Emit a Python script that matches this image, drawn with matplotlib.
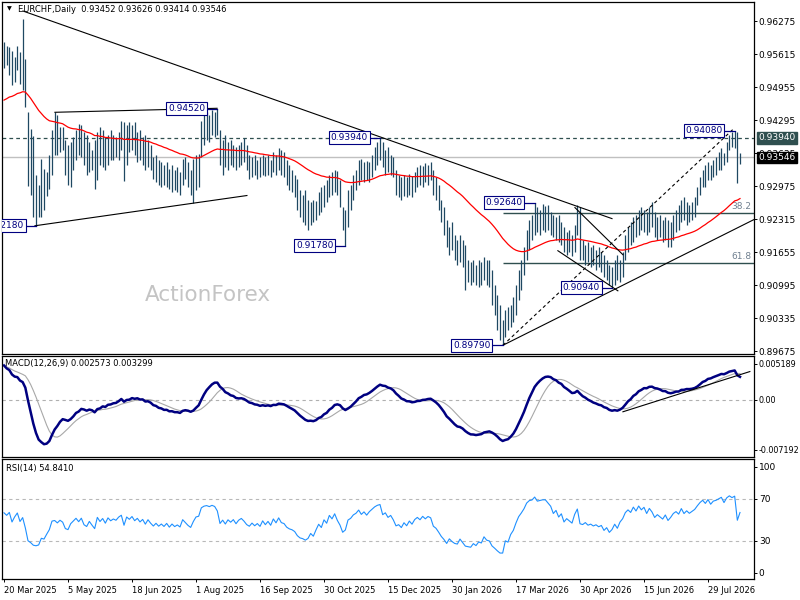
import matplotlib
matplotlib.use("Agg")
import matplotlib.pyplot as plt
import matplotlib.transforms as mtransforms

# daily bars, price x 10000
highs = [
    9586, 9578, 9575, 9568, 9555, 9578, 9565, 9631, 9551, 9445, 9411, 9397, 9320, 9300, 9351, 9331, 9325, 9360, 9410, 9445,
    9440, 9415, 9415, 9390, 9380, 9385, 9395, 9410, 9421, 9420, 9405, 9400, 9385, 9370, 9390, 9405, 9415, 9410, 9395, 9400,
    9410, 9400, 9395, 9405, 9427, 9425, 9420, 9425, 9420, 9425, 9405, 9410, 9395, 9400, 9390, 9380, 9355, 9360, 9350, 9345,
    9340, 9345, 9331, 9340, 9330, 9335, 9325, 9351, 9355, 9345, 9330, 9351, 9360, 9361, 9427, 9440, 9445, 9440, 9450, 9445,
    9452, 9410, 9390, 9400, 9385, 9390, 9380, 9375, 9380, 9385, 9394, 9380, 9360, 9355, 9360, 9350, 9355, 9360, 9355, 9360,
    9350, 9365, 9360, 9373, 9370, 9365, 9350, 9340, 9330, 9320, 9311, 9290, 9280, 9290, 9270, 9265, 9270, 9268, 9285, 9296,
    9300, 9310, 9320, 9325, 9330, 9327, 9310, 9255, 9250, 9290, 9300, 9320, 9330, 9350, 9351, 9345, 9348, 9345, 9360, 9375,
    9385, 9394, 9385, 9370, 9375, 9360, 9355, 9330, 9320, 9315, 9320, 9315, 9322, 9318, 9325, 9335, 9340, 9338, 9344, 9340,
    9345, 9330, 9315, 9300, 9270, 9255, 9230, 9215, 9225, 9200, 9190, 9200, 9190, 9180, 9150, 9145, 9150, 9140, 9150, 9145,
    9155, 9150, 9150, 9130, 9100, 9080, 9060, 9030, 9050, 9055, 9060, 9075, 9100, 9130, 9150, 9175, 9210, 9230, 9240, 9264,
    9255, 9250, 9262, 9258, 9260, 9245, 9240, 9235, 9240, 9225, 9215, 9205, 9210, 9200, 9220, 9260, 9255, 9190, 9180, 9185,
    9175, 9180, 9170, 9175, 9165, 9160, 9150, 9140, 9135, 9150, 9160, 9150, 9165, 9200, 9215, 9225, 9235, 9240, 9250, 9255,
    9250, 9245, 9255, 9266, 9245, 9235, 9240, 9230, 9235, 9230, 9225, 9240, 9250, 9260, 9270, 9276, 9265, 9260, 9265, 9275,
    9296, 9316, 9330, 9340, 9346, 9340, 9350, 9356, 9366, 9374, 9364, 9386, 9400, 9406, 9408, 9406, 9363,
]
lows = [
    9533, 9540, 9520, 9500, 9505, 9530, 9502, 9490, 9456, 9297, 9280, 9236, 9218, 9236, 9236, 9250, 9277, 9291, 9320, 9360,
    9360, 9365, 9370, 9320, 9300, 9296, 9330, 9350, 9360, 9355, 9340, 9320, 9325, 9330, 9291, 9310, 9340, 9335, 9330, 9340,
    9350, 9350, 9355, 9350, 9370, 9307, 9340, 9365, 9370, 9360, 9345, 9350, 9340, 9330, 9335, 9330, 9311, 9305, 9300, 9295,
    9300, 9295, 9291, 9285, 9290, 9285, 9280, 9300, 9311, 9295, 9280, 9263, 9290, 9296, 9355, 9380, 9390, 9385, 9400, 9395,
    9400, 9340, 9320, 9335, 9330, 9340, 9335, 9330, 9335, 9340, 9345, 9330, 9311, 9315, 9320, 9311, 9315, 9320, 9318, 9320,
    9315, 9325, 9320, 9330, 9320, 9315, 9300, 9290, 9285, 9275, 9250, 9235, 9225, 9220, 9210, 9220, 9225, 9230, 9240, 9245,
    9255, 9265, 9275, 9280, 9285, 9280, 9255, 9210, 9178, 9215, 9250, 9270, 9290, 9300, 9310, 9305, 9310, 9305, 9315, 9330,
    9340, 9350, 9335, 9320, 9325, 9320, 9315, 9280, 9275, 9270, 9278, 9275, 9280, 9276, 9285, 9295, 9300, 9296, 9305, 9300,
    9310, 9280, 9270, 9250, 9225, 9200, 9175, 9160, 9170, 9150, 9140, 9145, 9135, 9090, 9105, 9100, 9105, 9100, 9095, 9100,
    9110, 9100, 9095, 9060, 9040, 9010, 8990, 8979, 8995, 9010, 9015, 9025, 9040, 9070, 9090, 9120, 9150, 9170, 9190, 9200,
    9205, 9200, 9210, 9205, 9210, 9200, 9195, 9190, 9185, 9180, 9165, 9160, 9165, 9158, 9165, 9200, 9150, 9150, 9140, 9145,
    9135, 9140, 9130, 9135, 9125, 9115, 9110, 9100, 9094, 9100, 9110, 9105, 9115, 9150, 9165, 9180, 9185, 9195, 9200, 9210,
    9205, 9200, 9205, 9215, 9195, 9190, 9195, 9185, 9190, 9175, 9175, 9190, 9205, 9210, 9225, 9230, 9220, 9225, 9230, 9235,
    9260, 9280, 9296, 9296, 9310, 9310, 9316, 9320, 9330, 9330, 9340, 9346, 9370, 9376, 9374, 9303, 9341,
]
closes = [
    9560, 9548, 9565, 9515, 9545, 9570, 9520, 9545, 9470, 9320, 9290, 9245, 9235, 9240, 9280, 9270, 9300, 9330, 9395, 9400,
    9380, 9400, 9385, 9330, 9320, 9360, 9380, 9400, 9375, 9400, 9350, 9335, 9370, 9340, 9310, 9395, 9360, 9385, 9345, 9390,
    9365, 9380, 9370, 9395, 9410, 9330, 9400, 9380, 9405, 9370, 9390, 9360, 9380, 9340, 9375, 9345, 9320, 9340, 9315, 9330,
    9310, 9330, 9300, 9320, 9300, 9310, 9295, 9340, 9320, 9300, 9285, 9320, 9350, 9355, 9420, 9435, 9440, 9435, 9445, 9440,
    9420, 9350, 9370, 9345, 9370, 9355, 9370, 9345, 9365, 9375, 9360, 9340, 9330, 9345, 9330, 9340, 9325, 9350, 9330, 9345,
    9325, 9355, 9335, 9360, 9335, 9330, 9310, 9300, 9295, 9285, 9260, 9245, 9240, 9230, 9235, 9250, 9235, 9255, 9275, 9260,
    9290, 9275, 9310, 9295, 9320, 9290, 9265, 9220, 9230, 9280, 9290, 9310, 9320, 9340, 9320, 9335, 9320, 9340, 9355, 9370,
    9380, 9385, 9345, 9355, 9335, 9345, 9325, 9295, 9300, 9285, 9305, 9290, 9310, 9295, 9315, 9325, 9315, 9330, 9320, 9330,
    9325, 9290, 9280, 9260, 9235, 9215, 9185, 9200, 9180, 9165, 9160, 9175, 9150, 9120, 9115, 9110, 9120, 9105, 9115, 9108,
    9125, 9105, 9100, 9065, 9045, 9020, 8995, 8995, 9030, 9020, 9045, 9060, 9090, 9120, 9140, 9165, 9205, 9225, 9230, 9255,
    9240, 9245, 9250, 9250, 9240, 9230, 9205, 9220, 9195, 9210, 9175, 9190, 9180, 9170, 9210, 9240, 9165, 9160, 9170, 9155,
    9160, 9150, 9155, 9145, 9150, 9125, 9135, 9110, 9120, 9140, 9120, 9145, 9160, 9190, 9205, 9195, 9225, 9210, 9240, 9225,
    9240, 9215, 9245, 9230, 9205, 9220, 9210, 9200, 9220, 9195, 9210, 9230, 9240, 9230, 9260, 9240, 9255, 9245, 9255, 9265,
    9285, 9305, 9320, 9310, 9335, 9320, 9340, 9345, 9355, 9365, 9350, 9380, 9395, 9390, 9400, 9310, 9355,
]

title_text = "EURCHF,Daily  0.93452 0.93626 0.93414 0.93546"
macd_text = "MACD(12,26,9) 0.002573 0.003299"
rsi_text = "RSI(14) 54.8410"
watermark = "ActionForex"
dates = ["20 Mar 2025", "5 May 2025", "18 Jun 2025", "1 Aug 2025", "16 Sep 2025", "30 Oct 2025",
         "15 Dec 2025", "30 Jan 2026", "17 Mar 2026", "30 Apr 2026", "15 Jun 2026", "29 Jul 2026"]
date_step = 24
price_ticks = [0.96275, 0.95615, 0.94955, 0.94295, 0.93635, 0.92975,
               0.92315, 0.91655, 0.90995, 0.90335, 0.89675]
macd_ticks = [0.005189, 0.0, -0.007192]
macd_tick_labels = ["0.005189", "0.00", "-0.007192"]
rsi_ticks = [100, 70, 30, 0]
last_price = 0.93546
level_price = 0.93940
fib_from = 187
fibs = [("38.2", 0.92441), ("61.8", 0.91429)]
swings = [(12, "0.92180"), (80, "0.94520"), (128, "0.91780"), (141, "0.93940"),
          (187, "0.89790"), (199, "0.92640"), (228, "0.90940"), (274, "0.94080")]
# trendlines: (bar, price) pairs
trendlines = [
    ((7.1, 0.96476), (228.0, 0.92323), "-"),
    ((19.1, 0.94450), (79.9, 0.94530), "-"),
    ((11.6, 0.92180), (91.1, 0.92785), "-"),
    ((214.1, 0.92544), (232.1, 0.91601), "-"),
    ((207.7, 0.91681), (230.2, 0.90879), "-"),
    ((187.1, 0.89790), (273.4, 0.94110), "--"),
    ((187.1, 0.89790), (281.2, 0.92303), "-"),
]
macd_trend = ((232.1, -0.00170), (279.7, 0.00409))

# indicator seeds (state before first visible bar)
ma_period, ma_seed = 55, 0.9466
fast_seed, slow_seed = 0.9553, 0.9500
rsi_gain_seed, rsi_loss_seed = 0.0013, 0.0010

hi = [v / 10000 for v in highs]
lo = [v / 10000 for v in lows]
cl = [v / 10000 for v in closes]
idx = list(range(len(cl)))


def ema(values, period, seed):
    k = 2.0 / (period + 1)
    out, prev = [], seed
    for v in values:
        prev = prev + k * (v - prev)
        out.append(prev)
    return out


ma = ema(cl, ma_period, ma_seed)
macd = [a - b for a, b in zip(ema(cl, 12, fast_seed), ema(cl, 26, slow_seed))]
signal = []
for n in range(len(macd)):
    win = macd[max(0, n - 8):n + 1]
    signal.append(sum(win) / len(win))

rsi = []
g, l, prev = rsi_gain_seed, rsi_loss_seed, cl[0]
for c in cl:
    ch = c - prev
    prev = c
    g = (g * 13 + max(ch, 0)) / 14
    l = (l * 13 + max(-ch, 0)) / 14
    rsi.append(100 - 100 / (1 + g / l))

W, H = 800, 600
fig = plt.figure(figsize=(8, 6), dpi=100)


def rect(x0, y0, x1, y1):
    return [x0 / W, 1 - y1 / H, (x1 - x0) / W, (y1 - y0) / H]


ax = fig.add_axes(rect(2, 2, 754, 354))
axm = fig.add_axes(rect(2, 356, 754, 457))
axr = fig.add_axes(rect(2, 459, 754, 579))
xlim = (-0.75, 281.25)
px_bar = 752 / (xlim[1] - xlim[0])

for a in (ax, axm, axr):
    a.set_xlim(*xlim)
    a.set_xticks([])
    a.yaxis.tick_right()
    a.tick_params(axis="y", direction="out", length=2, width=0.7, pad=1.5, labelsize=6.5)
    for s in a.spines.values():
        s.set_linewidth(0.9)
        s.set_color("black")

# main pane
ax.set_ylim(0.89615, 0.96656)
ax.set_yticks(price_ticks)
ax.set_yticklabels([f"{p:.5f}" for p in price_ticks])
ax.text(219 / W, 1 - 293 / 352, watermark, transform=ax.transAxes, color="#c4c4c4",
        fontsize=15.5, ha="center", va="center", zorder=0)
ax.axhline(last_price, color="#c0c0c0", lw=1, zorder=1)
ax.axhline(level_price, color="#2f4f4f", lw=0.9, dashes=(3, 2.5), zorder=1)
for name, lvl in fibs:
    ax.hlines(lvl, fib_from, xlim[1], color="#2f4f4f", lw=1, zorder=1)
    ax.text(xlim[1] - 1, lvl + 0.0004, name, color="#708090", fontsize=6.5, ha="right", va="bottom")
ax.vlines(idx, lo, hi, color="#1f4862", lw=0.9, zorder=2)
ax.plot(idx, ma, color="#ff0000", lw=0.9, zorder=3)
for (x0, y0), (x1, y1), ls in trendlines:
    ax.plot([x0, x1], [y0, y1], color="black", lw=0.8, ls=ls,
            dashes=(3, 2.5) if ls == "--" else (None, None), zorder=4)
box_tr = mtransforms.offset_copy(ax.transData, fig=fig, x=-12, y=0, units="dots")
for bar, txt in swings:
    p = float(txt)
    ax.plot([bar - 10 / px_bar, bar], [p, p], color="#000080", lw=0.9, zorder=4)
    ax.text(bar, p, txt, transform=box_tr, ha="right", va="center", fontsize=6.5, color="#000080",
            bbox=dict(boxstyle="square,pad=0.2", fc="white", ec="#000080", lw=0.8), zorder=5, clip_on=True)
side_tr = mtransforms.offset_copy(mtransforms.blended_transform_factory(ax.transAxes, ax.transData),
                                  fig=fig, x=4, y=0, units="dots")
for p, bg in ((level_price, "#2f4f4f"), (last_price, "black")):
    ax.text(1.0, p, f"{p:.5f}", transform=side_tr, ha="left", va="center", fontsize=6.5, color="white",
            bbox=dict(boxstyle="square,pad=0.15", fc=bg, ec=bg), clip_on=False, zorder=6)
fig.text(18 / W, 1 - 10 / H, title_text, fontsize=6, ha="left", va="center")
fig.text(9 / W, 1 - 9 / H, "\u25bc", fontsize=4.5, ha="center", va="center")

# MACD pane
axm.set_ylim(-0.00821, 0.00633)
axm.set_yticks(macd_ticks)
axm.set_yticklabels(macd_tick_labels)
axm.tick_params(axis="y", labelsize=5.8)
axm.axhline(0, color="#b0b0b0", lw=0.8, dashes=(3, 3))
axm.plot(idx, signal, color="#a8a8a8", lw=0.8)
axm.plot(idx, macd, color="#000080", lw=1.8)
(mx0, my0), (mx1, my1) = macd_trend
axm.plot([mx0, mx1], [my0, my1], color="black", lw=0.8)
axm.text(1 / px_bar, 0.0052, macd_text, fontsize=6, va="center")

# RSI pane
axr.set_ylim(-5.9, 107.3)
axr.set_yticks(rsi_ticks)
axr.set_yticklabels([str(v) for v in rsi_ticks])
for lvl in (70, 30):
    axr.axhline(lvl, color="#b8b8b8", lw=0.8, dashes=(3, 3))
axr.plot(idx, rsi, color="#1e90ff", lw=0.8)
axr.text(2 / px_bar, 98, rsi_text, fontsize=6, va="center")
axr.set_xticks([k * date_step for k in range(len(dates))])
axr.set_xticklabels(dates)
axr.tick_params(axis="x", direction="out", length=2, width=0.7, pad=3, labelsize=6)
for t in axr.get_xticklabels():
    t.set_ha("left")

fig.savefig("out.png", dpi=100, facecolor="white")
